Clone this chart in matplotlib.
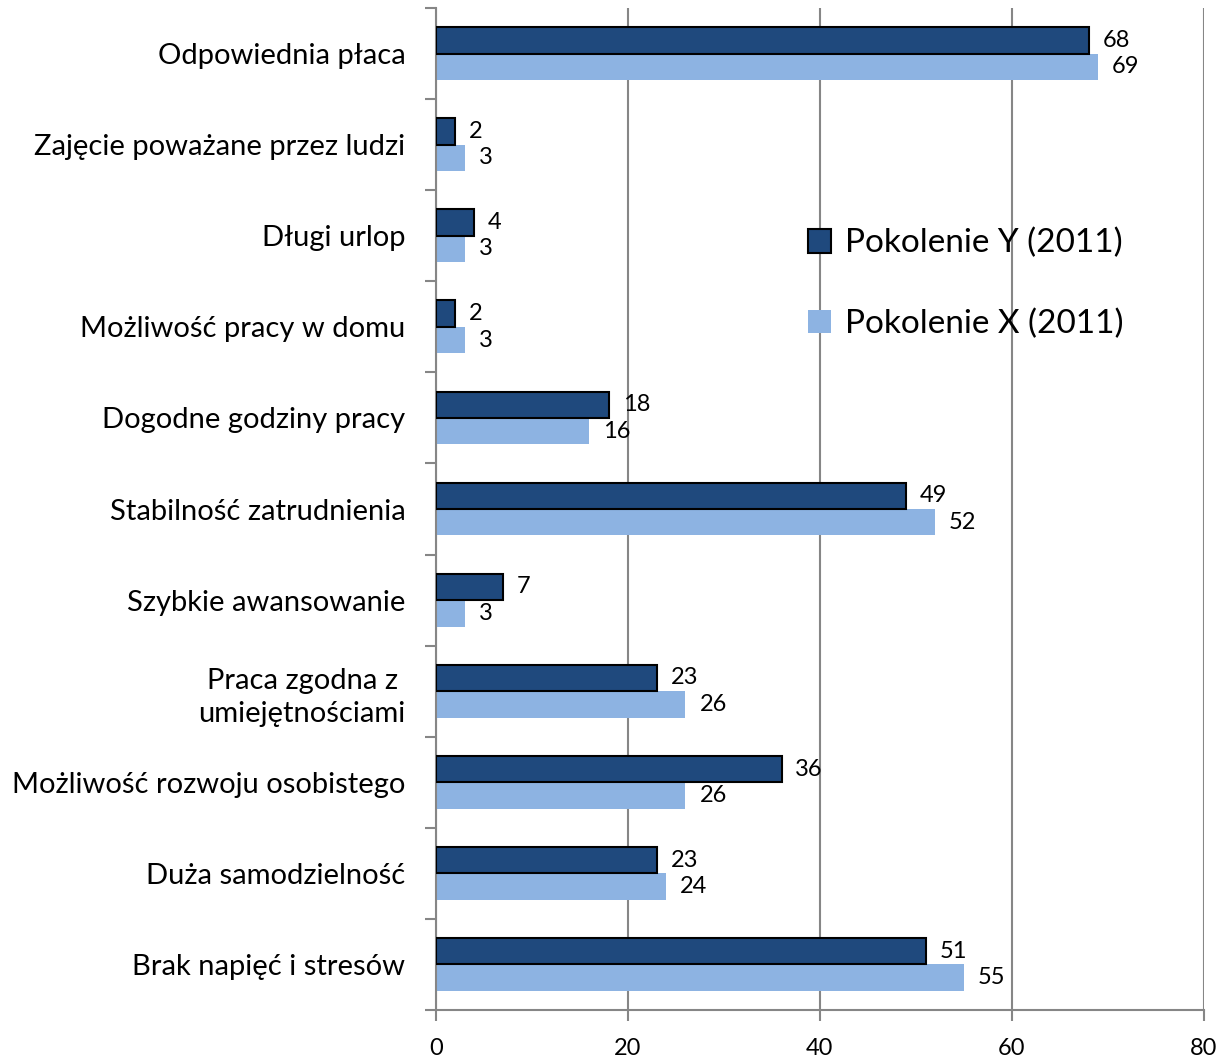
import matplotlib
matplotlib.use("Agg")
import matplotlib.pyplot as plt
import numpy as np
from matplotlib.ticker import FixedLocator

categories = [
    "Odpowiednia płaca",
    "Zajęcie poważane przez ludzi",
    "Długi urlop",
    "Możliwość pracy w domu",
    "Dogodne godziny pracy",
    "Stabilność zatrudnienia",
    "Szybkie awansowanie",
    "Praca zgodna z \numiejętnościami",
    "Możliwość rozwoju osobistego",
    "Duża samodzielność",
    "Brak napięć i stresów",
]
pokolenie_y = [68, 2, 4, 2, 18, 49, 7, 23, 36, 23, 51]
pokolenie_x = [69, 3, 3, 3, 16, 52, 3, 26, 26, 24, 55]
series_names = ["Pokolenie Y (2011)", "Pokolenie X (2011)"]
x_ticks = [0, 20, 40, 60, 80]

plt.rcParams['font.family'] = ['Lato', 'DejaVu Sans']

fig = plt.figure(figsize=(12.21, 10.59), dpi=100)
ax = fig.add_axes([0.357, 0.0463, 0.629, 0.9461])

n = len(categories)
pos = np.arange(n)
h = 0.29
dark = "#1F497D"
light = "#8DB3E2"
grid_c = "#868686"

b1 = ax.barh(pos - h / 2, pokolenie_y, height=h, color=dark, edgecolor="black", linewidth=1.5,
             label=series_names[0], zorder=3)
b2 = ax.barh(pos + h / 2, pokolenie_x, height=h, color=light, edgecolor="none",
             label=series_names[1], zorder=2)

for bars, vals in ((b1, pokolenie_y), (b2, pokolenie_x)):
    for rect, v in zip(bars, vals):
        ax.annotate(str(v), (rect.get_width(), rect.get_y() + rect.get_height() / 2),
                    xytext=(10, 0), textcoords="offset points", va="center", ha="left",
                    fontsize=17, color="black")

ax.set_xlim(0, 80)
ax.set_ylim(n - 0.5, -0.5)
ax.set_xticks(x_ticks)
ax.set_xticklabels([str(t) for t in x_ticks], fontsize=17)
ax.set_yticks(pos)
ax.set_yticklabels(categories, fontsize=21, multialignment="right", linespacing=1.35)
ax.tick_params(axis="y", which="major", length=0, pad=22)
ax.yaxis.set_minor_locator(FixedLocator(np.arange(-0.5, n, 1.0)))
ax.tick_params(axis="y", which="minor", length=8, width=1.5, color=grid_c, direction="out")
ax.tick_params(axis="x", which="major", length=8, width=1.5, color=grid_c, direction="out", pad=12)

for s in ("top", "right"):
    ax.spines[s].set_visible(False)
for s in ("left", "bottom"):
    ax.spines[s].set_color(grid_c)
    ax.spines[s].set_linewidth(1.5)

ax.xaxis.grid(True, color=grid_c, linewidth=1.5, zorder=0)
ax.set_axisbelow(True)

leg = ax.legend(loc="upper left", bbox_to_anchor=(0.463, 0.797), frameon=False, fontsize=24,
                handlelength=0.7, handleheight=0.7, handletextpad=0.4, labelspacing=1.5,
                borderpad=0)

fig.savefig("out.png", dpi=100)
